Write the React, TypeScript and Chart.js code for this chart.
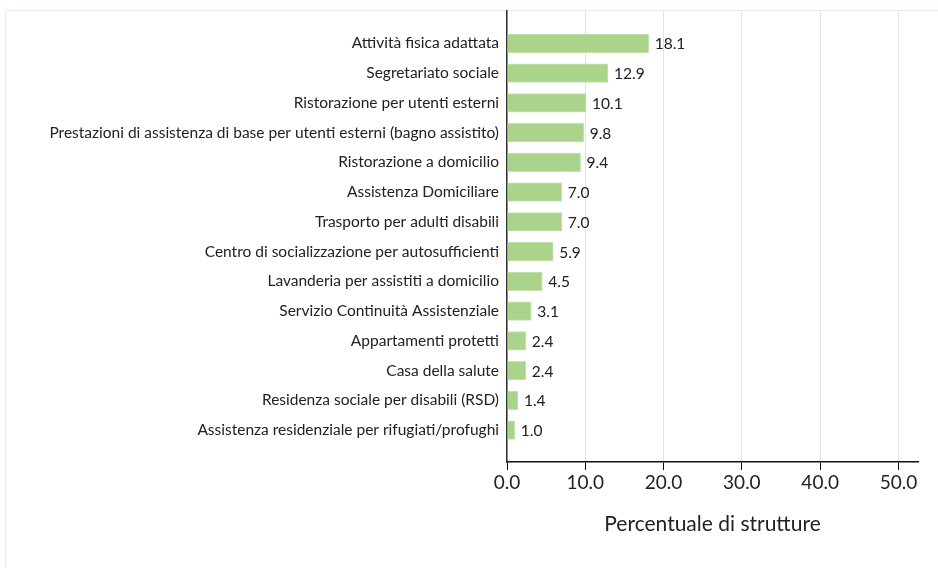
import React, { useEffect, useRef } from "react";
import { Chart, registerables } from "chart.js";

Chart.register(...registerables);

const categories: string[] = [
  "Attività fisica adattata",
  "Segretariato sociale",
  "Ristorazione per utenti esterni",
  "Prestazioni di assistenza di base per utenti esterni (bagno assistito)",
  "Ristorazione a domicilio",
  "Assistenza Domiciliare",
  "Trasporto per adulti disabili",
  "Centro di socializzazione per autosufficienti",
  "Lavanderia per assistiti a domicilio",
  "Servizio Continuità Assistenziale",
  "Appartamenti protetti",
  "Casa della salute",
  "Residenza sociale per disabili (RSD)",
  "Assistenza residenziale per rifugiati/profughi",
];

const values: number[] = [18.1, 12.9, 10.1, 9.8, 9.4, 7.0, 7.0, 5.9, 4.5, 3.1, 2.4, 2.4, 1.4, 1.0];

const xTicks: number[] = [0, 10, 20, 30, 40, 50];
const xTitle = "Percentuale di strutture";

const FONT = "Lato, 'Noto Sans', sans-serif";

const valueLabels = {
  id: "valueLabels",
  afterDatasetsDraw(chart: any) {
    const ctx = chart.ctx;
    const meta = chart.getDatasetMeta(0);
    ctx.save();
    ctx.font = `15.5px ${FONT}`;
    ctx.fillStyle = "#222";
    ctx.textAlign = "left";
    ctx.textBaseline = "middle";
    meta.data.forEach((el: any, i: number) => {
      const v = chart.data.datasets[0].data[i].x;
      ctx.fillText(v.toFixed(1), el.x + 6, el.y + 1);
    });
    ctx.restore();
  },
};

export default function App() {
  const ref = useRef<HTMLCanvasElement>(null);
  useEffect(() => {
    document.body.style.margin = "0";
    const chart = new Chart(ref.current!, {
      type: "bar",
      data: {
        datasets: [
          {
            data: values.map((v, i) => ({ x: v, y: i })),
            backgroundColor: "#aad48b",
            borderColor: "#c6e3b1",
            borderWidth: 1,
            barThickness: 18.5,
          },
        ],
      },
      options: {
        indexAxis: "y",
        animation: false,
        responsive: false,
        maintainAspectRatio: false,
        layout: { padding: { left: 0, right: 20, top: 11, bottom: 27 } },
        plugins: { legend: { display: false }, tooltip: { enabled: false } },
        scales: {
          x: {
            type: "linear",
            min: 0,
            max: 52.5,
            afterBuildTicks: (s: any) => {
              s.ticks = xTicks.map((v) => ({ value: v }));
            },
            grid: { color: "#e3e3e3", lineWidth: 1, tickColor: "#111", tickLength: 8 },
            border: { display: true, color: "#111", width: 1.5 },
            ticks: {
              color: "#222",
              padding: 1,
              font: { family: FONT, size: 19 },
              callback: (v: any) => Number(v).toFixed(1),
            },
            title: {
              display: true,
              text: xTitle,
              color: "#222",
              font: { family: FONT, size: 21 },
              padding: { top: 17, bottom: 4 },
            },
          },
          y: {
            type: "linear",
            reverse: true,
            offset: false,
            min: -1.09,
            max: 14.07,
            afterBuildTicks: (s: any) => {
              s.ticks = categories.map((_, i) => ({ value: i }));
            },
            afterFit: (s: any) => {
              s.width = 507;
              s.paddingTop = 0;
              s.paddingBottom = 0;
            },
            grid: { display: false, drawTicks: false, offset: false },
            border: { display: true, color: "#333", width: 1.5 },
            ticks: {
              color: "#222",
              padding: 8,
              autoSkip: false,
              font: { family: FONT, size: 15.5 },
              callback: (v: any) => categories[v as number] ?? "",
            },
          },
        },
      },
      plugins: [valueLabels],
    });
    return () => chart.destroy();
  }, []);
  return (
    <div style={{ position: "relative", width: 938, height: 568, overflow: "hidden", background: "#fff" }}>
      <div
        style={{
          position: "absolute",
          left: 5,
          top: 10,
          width: 950,
          height: 600,
          border: "1px solid #e2eded",
          boxSizing: "border-box",
        }}
      />
      <canvas ref={ref} width={938} height={568} style={{ position: "absolute", left: 0, top: 0 }} />
    </div>
  );
}
